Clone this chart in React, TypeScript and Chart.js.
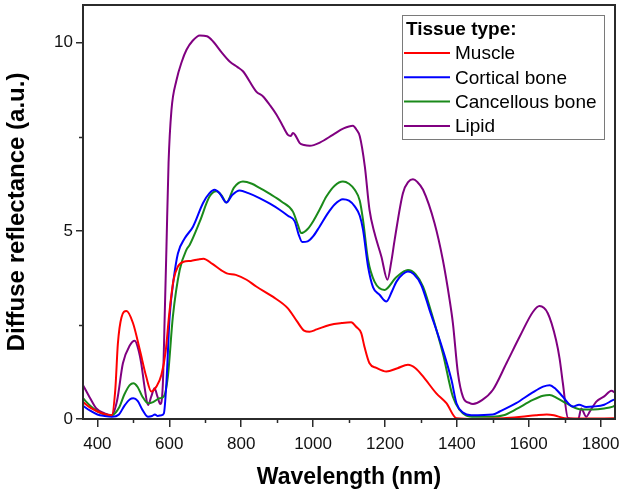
import React, { useEffect, useRef } from 'react';
import { Chart, registerables } from 'chart.js';

Chart.register(...registerables);

// ---------- data (wavelength in nm, diffuse reflectance in a.u.) ----------
const muscleWl = [360, 380, 400, 420, 440, 450, 457, 467, 481, 499, 518, 536, 550, 564, 578, 590, 600, 612, 624, 640, 660, 680, 695, 720, 745, 760, 785, 815, 842, 888, 930, 955, 975, 990, 1010, 1046, 1080, 1106, 1120, 1134, 1143, 1157, 1176, 1204, 1235, 1264, 1285, 1306, 1343, 1371, 1399, 1450, 1530, 1580, 1620, 1650, 1670, 1700, 1750, 1840];
const muscleVal = [0.45, 0.3, 0.2, 0.13, 0.1, 0.8, 2.0, 2.7, 2.87, 2.55, 1.84, 1.12, 0.73, 0.86, 1.17, 1.8, 2.8, 3.7, 4.05, 4.18, 4.2, 4.24, 4.26, 4.12, 3.95, 3.87, 3.83, 3.7, 3.52, 3.25, 2.94, 2.6, 2.35, 2.32, 2.38, 2.5, 2.55, 2.57, 2.45, 2.28, 1.92, 1.48, 1.36, 1.26, 1.35, 1.44, 1.35, 1.13, 0.68, 0.42, 0.02, 0.0, 0.02, 0.06, 0.1, 0.12, 0.1, 0.02, 0.01, 0.02];

const corticalWl = [360, 380, 400, 420, 440, 460, 475, 490, 500, 512, 525, 541, 552, 560, 568, 578, 585, 592, 601, 612, 624, 643, 666, 694, 712, 726, 740, 759, 775, 796, 820, 851, 880, 907, 930, 949, 960, 970, 985, 1000, 1018, 1040, 1060, 1083, 1100, 1116, 1130, 1139, 1153, 1167, 1185, 1204, 1220, 1232, 1250, 1264, 1280, 1301, 1324, 1361, 1385, 1399, 1417, 1440, 1500, 1519, 1565, 1610, 1640, 1658, 1675, 1695, 1723, 1740, 1760, 1779, 1810, 1834, 1840];
const corticalVal = [0.35, 0.22, 0.12, 0.08, 0.06, 0.12, 0.35, 0.52, 0.55, 0.48, 0.25, 0.06, 0.08, 0.12, 0.08, 0.1, 0.15, 0.95, 2.72, 3.7, 4.4, 4.8, 5.11, 5.74, 6.0, 6.09, 6.0, 5.75, 5.95, 6.07, 6.0, 5.87, 5.72, 5.56, 5.4, 5.25, 4.9, 4.7, 4.72, 4.85, 5.11, 5.45, 5.7, 5.84, 5.8, 5.65, 5.4, 5.03, 4.05, 3.5, 3.3, 3.12, 3.4, 3.65, 3.85, 3.92, 3.85, 3.56, 2.9, 1.84, 1.04, 0.42, 0.17, 0.1, 0.12, 0.2, 0.42, 0.7, 0.86, 0.9, 0.8, 0.59, 0.33, 0.38, 0.32, 0.33, 0.38, 0.5, 0.52];

const cancellousWl = [360, 380, 400, 420, 440, 460, 475, 490, 500, 512, 525, 541, 555, 573, 585, 596, 610, 629, 648, 657, 685, 712, 731, 745, 759, 780, 805, 830, 851, 880, 912, 944, 958, 967, 985, 1000, 1018, 1037, 1060, 1083, 1100, 1116, 1130, 1139, 1153, 1171, 1199, 1230, 1264, 1285, 1306, 1330, 1361, 1389, 1408, 1425, 1450, 1500, 1530, 1565, 1610, 1640, 1658, 1680, 1704, 1741, 1779, 1810, 1834, 1840];
const cancellousVal = [0.55, 0.35, 0.2, 0.12, 0.1, 0.3, 0.65, 0.9, 0.95, 0.85, 0.6, 0.42, 0.45, 0.55, 0.6, 1.12, 2.72, 3.96, 4.5, 4.63, 5.25, 5.91, 6.05, 5.95, 5.75, 6.15, 6.31, 6.25, 6.14, 5.98, 5.78, 5.51, 5.15, 4.94, 5.05, 5.25, 5.56, 5.91, 6.2, 6.31, 6.25, 6.09, 5.8, 5.29, 4.23, 3.65, 3.43, 3.75, 3.96, 3.85, 3.52, 2.8, 1.75, 0.59, 0.24, 0.1, 0.06, 0.06, 0.1, 0.26, 0.5, 0.62, 0.64, 0.55, 0.42, 0.26, 0.25, 0.28, 0.33, 0.36];

const lipidWl = [360, 380, 397, 420, 440, 455, 471, 490, 504, 514, 522, 532, 541, 550, 559, 567, 575, 582, 588, 592, 598, 606, 620, 635, 648, 665, 685, 705, 722, 745, 768, 790, 805, 842, 861, 879, 898, 915, 930, 938, 944, 950, 963, 975, 991, 1020, 1055, 1085, 1111, 1120, 1130, 1144, 1157, 1171, 1190, 1207, 1218, 1227, 1250, 1265, 1278, 1290, 1306, 1338, 1361, 1380, 1389, 1403, 1417, 1436, 1445, 1470, 1500, 1538, 1575, 1612, 1630, 1653, 1676, 1686, 1695, 1709, 1738, 1746, 1760, 1770, 1788, 1810, 1830, 1840];
const lipidVal = [0.9, 0.55, 0.28, 0.15, 0.1, 0.5, 1.48, 1.95, 2.08, 1.85, 1.48, 0.8, 0.37, 0.6, 0.82, 0.6, 0.4, 0.9, 3.0, 4.5, 6.8, 8.2, 9.0, 9.5, 9.81, 10.05, 10.19, 10.17, 10.03, 9.75, 9.5, 9.35, 9.24, 8.7, 8.57, 8.35, 8.09, 7.8, 7.55, 7.52, 7.6, 7.55, 7.33, 7.28, 7.26, 7.35, 7.55, 7.72, 7.79, 7.7, 7.51, 6.71, 5.56, 4.94, 4.32, 3.7, 4.2, 4.76, 6.0, 6.3, 6.37, 6.3, 6.09, 5.2, 4.23, 3.16, 2.55, 1.22, 0.59, 0.42, 0.4, 0.5, 0.77, 1.48, 2.19, 2.85, 3.0, 2.81, 2.1, 1.6, 0.95, 0.03, 0.0, 0.28, 0.06, 0.2, 0.46, 0.6, 0.75, 0.7];

const seriesLabels = ['Muscle', 'Cortical bone', 'Cancellous bone', 'Lipid'];
const seriesColors = ['#ff0000', '#0000ff', '#1a8a1a', '#800080'];
const legendTitle = 'Tissue type:';
const xTitle = 'Wavelength (nm)';
const yTitle = 'Diffuse reflectance (a.u.)';

const xMajorTicks = [400, 600, 800, 1000, 1200, 1400, 1600, 1800];
const xMinorTicks = [500, 700, 900, 1100, 1300, 1500, 1700];
const yMajorTicks = [0, 5, 10];
const yMinorTicks = [2.5, 7.5];

const FONT = '"Liberation Sans", Arial, Helvetica, sans-serif';
const AXIS_COLOR = '#2b2b2b';

function toPoints(xs: number[], ys: number[]) {
  return xs.map((x, i) => ({ x, y: ys[i] }));
}

const framePlugin = {
  id: 'framePlugin',
  afterDraw(chart: any) {
    const { ctx, chartArea: a, scales } = chart;
    ctx.save();
    ctx.strokeStyle = AXIS_COLOR;
    ctx.lineWidth = 1.5;
    ctx.beginPath();
    xMinorTicks.forEach((v) => {
      const px = Math.round(scales.x.getPixelForValue(v)) + 0.5;
      ctx.moveTo(px, a.bottom);
      ctx.lineTo(px, a.bottom + 4);
    });
    yMinorTicks.forEach((v) => {
      const py = Math.round(scales.y.getPixelForValue(v)) + 0.5;
      ctx.moveTo(a.left - 4, py);
      ctx.lineTo(a.left, py);
    });
    ctx.stroke();

    ctx.lineWidth = 2;
    ctx.strokeRect(a.left, a.top, a.right - a.left, a.bottom - a.top);

    // legend box
    const lx = a.right - 213;
    const ly = a.top + 10;
    const lw = 202;
    const lh = 124;
    ctx.fillStyle = '#ffffff';
    ctx.fillRect(lx, ly, lw, lh);
    ctx.lineWidth = 1;
    ctx.strokeStyle = '#7a7a7a';
    ctx.strokeRect(lx + 0.5, ly + 0.5, lw, lh);

    ctx.fillStyle = '#000';
    ctx.textBaseline = 'middle';
    ctx.textAlign = 'left';
    ctx.font = `bold 19px ${FONT}`;
    ctx.fillText(legendTitle, lx + 4, ly + 15);
    ctx.font = `19px ${FONT}`;
    chart.data.datasets.forEach((ds: any, i: number) => {
      const cy = ly + 38 + i * 24.3;
      ctx.strokeStyle = ds.borderColor;
      ctx.lineWidth = 2;
      ctx.beginPath();
      ctx.moveTo(lx + 2, cy);
      ctx.lineTo(lx + 48, cy);
      ctx.stroke();
      ctx.fillStyle = '#000';
      ctx.fillText(ds.label, lx + 53, cy + 1);
    });
    ctx.restore();
  },
};

export default function App() {
  const canvasRef = useRef<HTMLCanvasElement | null>(null);

  useEffect(() => {
    const canvas = canvasRef.current;
    if (!canvas) return;
    const seriesX = [muscleWl, corticalWl, cancellousWl, lipidWl];
    const seriesY = [muscleVal, corticalVal, cancellousVal, lipidVal];
    const chart = new Chart(canvas, {
      type: 'line',
      data: {
        datasets: seriesLabels.map((label, i) => ({
          label,
          data: toPoints(seriesX[i], seriesY[i]),
          borderColor: seriesColors[i],
          backgroundColor: seriesColors[i],
          borderWidth: 2,
          pointRadius: 0,
          fill: false,
          cubicInterpolationMode: 'monotone' as const,
        })),
      },
      options: {
        responsive: false,
        animation: false,
        layout: { padding: { left: 0, right: 9, top: 5, bottom: 0 } },
        plugins: {
          legend: { display: false },
          tooltip: { enabled: false },
        },
        scales: {
          x: {
            type: 'linear',
            min: 360,
            max: 1840,
            afterBuildTicks: (scale: any) => {
              scale.ticks = xMajorTicks.map((v) => ({ value: v }));
            },
            afterFit: (scale: any) => {
              scale.height = 73;
              scale.paddingLeft = 0;
              scale.paddingRight = 0;
            },
            border: { display: false },
            grid: {
              drawOnChartArea: false,
              drawTicks: true,
              tickLength: 8,
              color: AXIS_COLOR,
              lineWidth: 1.5,
            },
            ticks: {
              color: '#111',
              font: { family: FONT, size: 17 },
              padding: 7,
              maxRotation: 0,
              autoSkip: false,
              callback: (v: any) => String(v),
            },
            title: {
              display: true,
              text: xTitle,
              color: '#000',
              font: { family: FONT, size: 23, weight: 'bold' },
              padding: { top: 0, bottom: 1 },
            },
          },
          y: {
            type: 'linear',
            min: 0,
            max: 11,
            afterBuildTicks: (scale: any) => {
              scale.ticks = yMajorTicks.map((v) => ({ value: v }));
            },
            afterFit: (scale: any) => {
              scale.width = 83;
              scale.paddingTop = 0;
              scale.paddingBottom = 0;
            },
            border: { display: false },
            grid: {
              drawOnChartArea: false,
              drawTicks: true,
              tickLength: 7,
              color: AXIS_COLOR,
              lineWidth: 1.5,
            },
            ticks: {
              color: '#111',
              font: { family: FONT, size: 17 },
              padding: 3,
              callback: (v: any) => String(v),
            },
            title: {
              display: true,
              text: yTitle,
              color: '#000',
              font: { family: FONT, size: 24, weight: 'bold' },
              padding: { top: 3, bottom: 0 },
            },
          },
        },
      },
      plugins: [framePlugin],
    });
    return () => chart.destroy();
  }, []);

  return (
    <div style={{ position: 'fixed', left: 0, top: 0, width: 624, height: 492, background: '#fff' }}>
      <canvas ref={canvasRef} width={624} height={492} />
    </div>
  );
}
